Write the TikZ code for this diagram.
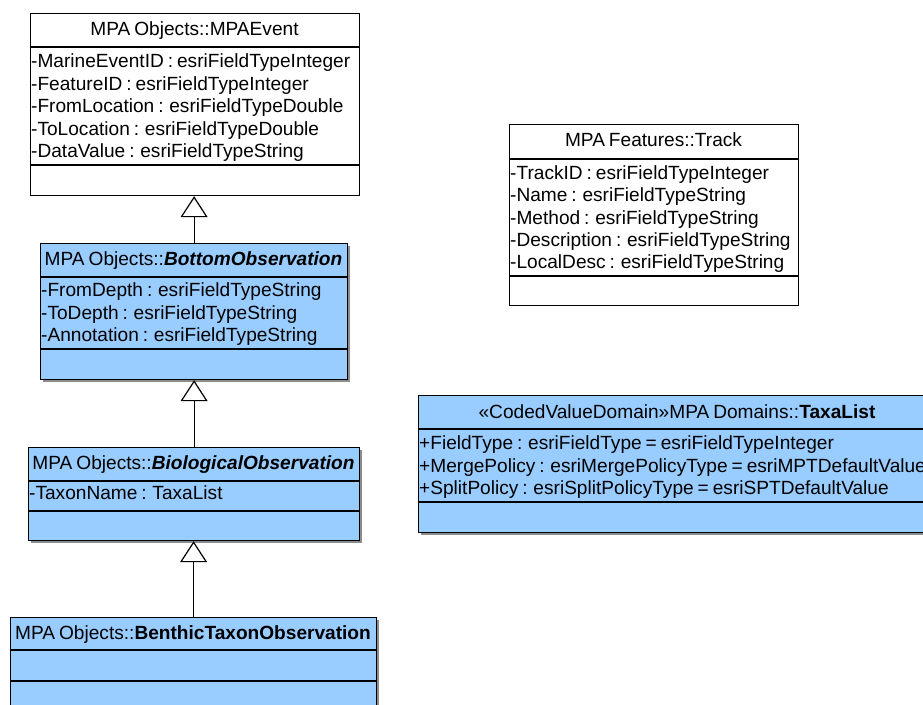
\documentclass[tikz,border=0pt]{standalone}
\usepackage{fontspec}
\setmainfont[WordSpace=0.75]{Liberation Sans}
\usetikzlibrary{arrows.meta,shadows}
\definecolor{umlblue}{RGB}{153,204,255}
\begin{document}
\begin{tikzpicture}[x=1pt,y=-1pt,
  box/.style={draw=black, line width=1.2pt, inner sep=0pt, anchor=north west},
  bluebox/.style={box, fill=umlblue,
    drop shadow={shadow xshift=2pt, shadow yshift=-2pt, fill=black!45, opacity=1}},
  sep/.style={line width=1.2pt},
  txt/.style={inner sep=0pt, anchor=base west, font=\fontsize{19.1}{22}\selectfont},
  head/.style={inner sep=0pt, anchor=base, font=\fontsize{19.1}{22}\selectfont},
  gen/.style={line width=1.2pt, -{Triangle[open, length=21pt, width=27pt, line width=1.2pt]}}]
\clip (0,0) rectangle (923,704);
\fill[white] (0,0) rectangle (923,704);

% MPA Objects::MPAEvent
\node[box, fill=white, minimum width=329pt, minimum height=182pt] (mpa) at (30,13) {};
\draw[sep] (30,47) -- (359,47);
\draw[sep] (30,165) -- (359,165);
\node[head] (mpah) at (194.5,35.5) {MPA Objects::MPAEvent};
\node[txt] (mpa1) at (31,67.5) {-MarineEventID : esriFieldTypeInteger};
\node[txt] (mpa2) at (31,90) {-FeatureID : esriFieldTypeInteger};
\node[txt] (mpa3) at (31,112.5) {-FromLocation : esriFieldTypeDouble};
\node[txt] (mpa4) at (31,135) {-ToLocation : esriFieldTypeDouble};
\node[txt] (mpa5) at (31,157.5) {-DataValue : esriFieldTypeString};

% MPA Objects::BottomObservation
\node[bluebox, minimum width=307pt, minimum height=136pt] (bot) at (40,243) {};
\draw[sep] (40,277) -- (347,277);
\draw[sep] (40,349) -- (347,349);
\node[head] (both) at (193.5,265.5) {MPA Objects::\textbf{\textit{BottomObservation}}};
\node[txt] (bot1) at (41,296.5) {-FromDepth : esriFieldTypeString};
\node[txt] (bot2) at (41,319) {-ToDepth : esriFieldTypeString};
\node[txt] (bot3) at (41,341.5) {-Annotation : esriFieldTypeString};

% MPA Objects::BiologicalObservation
\node[bluebox, minimum width=331pt, minimum height=93pt] (bio) at (28,447) {};
\draw[sep] (28,481) -- (359,481);
\draw[sep] (28,511) -- (359,511);
\node[head] (bioh) at (193.5,469.5) {MPA Objects::\textbf{\textit{BiologicalObservation}}};
\node[txt] (bio1) at (29,499.5) {-TaxonName : TaxaList};

% MPA Objects::BenthicTaxonObservation
\node[bluebox, minimum width=366pt, minimum height=96pt] (ben) at (10,617) {};
\draw[sep] (10,650) -- (376,650);
\draw[sep] (10,681) -- (376,681);
\node[head] (benh) at (193,639.5) {MPA Objects::\textbf{BenthicTaxonObservation}};

% MPA Features::Track
\node[box, fill=white, minimum width=289pt, minimum height=181pt] (trk) at (509,124) {};
\draw[sep] (509,159) -- (798,159);
\draw[sep] (509,276) -- (798,276);
\node[head] (trkh) at (653.5,146.5) {MPA Features::Track};
\node[txt] (trk1) at (510,179.5) {-TrackID : esriFieldTypeInteger};
\node[txt] (trk2) at (510,201.75) {-Name : esriFieldTypeString};
\node[txt] (trk3) at (510,224) {-Method : esriFieldTypeString};
\node[txt] (trk4) at (510,246.25) {-Description : esriFieldTypeString};
\node[txt] (trk5) at (510,268.5) {-LocalDesc : esriFieldTypeString};

% MPA Domains::TaxaList
\node[bluebox, minimum width=518pt, minimum height=137pt] (taxa) at (418,395) {};
\draw[sep] (418,429) -- (936,429);
\draw[sep] (418,502) -- (936,502);
\node[head] (taxah) at (677,418.5) {«CodedValueDomain»MPA Domains::\textbf{TaxaList}};
\node[txt] (taxa1) at (419,449.5) {+FieldType : esriFieldType = esriFieldTypeInteger};
\node[txt] (taxa2) at (419,472) {+MergePolicy : esriMergePolicyType = esriMPTDefaultValue};
\node[txt] (taxa3) at (419,494.5) {+SplitPolicy : esriSplitPolicyType = esriSPTDefaultValue};

% generalisations
\draw[gen] (bot.north) -- (bot.north |- mpa.south);
\draw[gen] (bio.north) -- (bio.north |- bot.south);
\draw[gen] (ben.north) -- (ben.north |- bio.south);
\end{tikzpicture}
\end{document}
